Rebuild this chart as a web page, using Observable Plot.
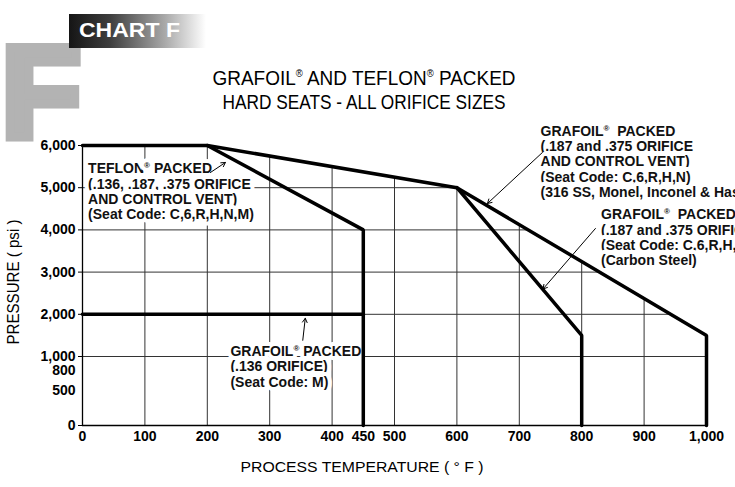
<!DOCTYPE html>
<html><head><meta charset="utf-8">
<script src="https://cdn.jsdelivr.net/npm/d3@7"></script>
<script src="https://cdn.jsdelivr.net/npm/@observablehq/plot@0.6"></script>
<style>
html,body{margin:0;padding:0;background:#fff;}
#wrap{position:relative;width:735px;height:487px;overflow:hidden;font-family:"Liberation Sans",Arial,sans-serif;}
#wrap svg.overlay{position:absolute;left:0;top:0;pointer-events:none;}
#wrap > svg:first-child{position:absolute;left:0;top:0;}
</style></head><body><div id="wrap"></div>
<script>
// ---- data ----
const temperatureTicks = [0,100,200,300,400,450,500,600,700,800,900,1000];
const pressureTicks = [0,500,800,1000,2000,3000,4000,5000,6000];
const pressureTickMarks = [0,1000,2000,3000,4000,5000,6000];
const gridTemps = [100,200,300,400,500,600,700,800,900];
const gridPressures = [1000,2000,3000,4000,5000];

const teflonTemp = [0,200,450,450];
const teflonPressure = [6000,6000,4000,0];
const grafoilAlloyTemp = [200,600,1000,1000];
const grafoilAlloyPressure = [6000,5000,1500,0];
const grafoilCarbonTemp = [600,800,800];
const grafoilCarbonPressure = [5000,1500,0];
const grafoil136Temp = [0,450];
const grafoil136Pressure = [2000,2000];
const envelopeTemp = [0,200,600,1000];
const envelopePressure = [6000,6000,5000,1500];

const noteTexts = [
  "TEFLON® PACKED\n(.136, .187, .375 ORIFICE\nAND CONTROL VENT)\n(Seat Code: C,6,R,H,N,M)",
  "GRAFOIL®  PACKED\n(.187 and .375 ORIFICE\nAND CONTROL VENT)\n(Seat Code: C,6,R,H,N)\n(316 SS, Monel, Inconel & Hastelloy)",
  "GRAFOIL®  PACKED\n(.187 and .375 ORIFICE\n(Seat Code: C,6,R,H,N)\n(Carbon Steel)",
  "GRAFOIL® PACKED\n(.136 ORIFICE)\n(Seat Code: M)"
];
const noteTemps = [9, 734, 831, 237];
const notePressures = [4910, 5621, 3820, 855];

const arrowFromTemp = [205, 737, 822, 353];
const arrowFromPressure = [5360, 5834, 4033, 1384];
const arrowToTemp = [229, 649, 738, 357];
const arrowToPressure = [5597, 4626, 2600, 1905];

// broken pressure axis: 0–1000 psi is drawn taller than each 1000 psi step above
const lowBandStretch = 69 / 42.2;
const pressureAxis = p => p <= 1000 ? p * lowBandStretch : 1000 * lowBandStretch + (p - 1000);

// ---- build ----
const pts = (t, p) => t.map((d, i) => ({t: d, p: p[i]}));
const series = [
  pts(teflonTemp, teflonPressure),
  pts(grafoilAlloyTemp, grafoilAlloyPressure),
  pts(grafoilCarbonTemp, grafoilCarbonPressure),
  pts(grafoil136Temp, grafoil136Pressure)
];
const envelope = pts(envelopeTemp, envelopePressure);
const notes = noteTexts.map((s, i) => ({s, t: noteTemps[i], p: notePressures[i]}));
const arrows = arrowFromTemp.map((d, i) => ({t1: d, p1: arrowFromPressure[i], t2: arrowToTemp[i], p2: arrowToPressure[i]}));
const fmt = d3.format(",");

const plot = Plot.plot({
  width: 735, height: 487,
  marginLeft: 82, marginRight: 29, marginTop: 145, marginBottom: 62,
  style: {fontFamily: "'Liberation Sans', Arial, sans-serif", background: "transparent", overflow: "visible", color: "#000"},
  x: {domain: [0, 1000]},
  y: {transform: pressureAxis, range: [425, 145]},
  marks: [
    Plot.ruleX(gridTemps, {y1: 0, y2: 6000, stroke: "#333", strokeWidth: 1}),
    Plot.ruleY(gridPressures, {x1: 0, x2: 1000, stroke: "#333", strokeWidth: 1}),
    Plot.areaY(envelope, {x: "t", y1: "p", y2: 6000, fill: "white"}),
    Plot.text(notes, {x: "t", y: "p", text: "s", textAnchor: "start", lineAnchor: "middle", lineHeight: 1.09,
      fontSize: 14, fontWeight: "bold", fill: "#111", stroke: "white", strokeWidth: 8, paintOrder: "stroke", strokeLinejoin: "round"}),
    Plot.ruleX([0], {y1: 0, y2: 6000, stroke: "black", strokeWidth: 1.3}),
    Plot.ruleY([0], {x1: 0, x2: 1000, stroke: "black", strokeWidth: 1.3}),
    ...series.map(s => Plot.line(s, {x: "t", y: "p", stroke: "black", strokeWidth: 3.5, strokeLinejoin: "miter"})),
    Plot.arrow(arrows, {x1: "t1", y1: "p1", x2: "t2", y2: "p2", stroke: "black", strokeWidth: 1, headLength: 7}),
    Plot.axisX(temperatureTicks, {tickSize: 0, tickPadding: 6, tickFormat: fmt, fontSize: 14, fontWeight: "bold", label: null}),
    Plot.axisY(pressureTickMarks, {tickSize: 4, tickFormat: () => "", label: null}),
    Plot.axisY(pressureTicks, {tickSize: 0, tickPadding: 7, tickFormat: fmt, fontSize: 14, fontWeight: "bold", label: null})
  ]
});

// superscript registered marks
plot.querySelectorAll("text, tspan").forEach(el => {
  if (el.childNodes.length === 1 && el.firstChild.nodeType === 3 && el.textContent.includes("®")) {
    const parts = el.textContent.split("®");
    el.textContent = parts[0];
    for (let i = 1; i < parts.length; i++) {
      const sup = document.createElementNS("http://www.w3.org/2000/svg", "tspan");
      sup.setAttribute("font-size", "8");
      sup.setAttribute("dy", "-5");
      sup.textContent = "®";
      const rest = document.createElementNS("http://www.w3.org/2000/svg", "tspan");
      rest.setAttribute("dy", "5");
      rest.textContent = parts[i];
      el.appendChild(sup); el.appendChild(rest);
    }
  }
});
plot.querySelectorAll("text").forEach(t => t.style.whiteSpace = "pre");

const wrap = document.getElementById("wrap");
wrap.appendChild(plot);

const overlay = `
<svg class="overlay" width="735" height="487" xmlns="http://www.w3.org/2000/svg" style="font-family:'Liberation Sans',Arial,sans-serif;white-space:pre">
  <defs><linearGradient id="hdr" x1="0" x2="1" y1="0" y2="0">
    <stop offset="0" stop-color="#151515"/><stop offset="0.3" stop-color="#3e3e3e"/>
    <stop offset="0.7" stop-color="#a9a9a9"/><stop offset="1" stop-color="#ffffff"/>
  </linearGradient></defs>
  <text x="1.5" y="137" font-weight="bold" font-size="130" fill="#b3b3b3" stroke="#b3b3b3" stroke-width="9">F</text>
  <rect x="69" y="14" width="137" height="34" fill="url(#hdr)"/>
  <text x="79" y="37" fill="#fff" font-weight="bold" font-size="20" textLength="101" lengthAdjust="spacingAndGlyphs">CHART F</text>
  <text x="364" y="85" text-anchor="middle" font-size="20" textLength="303" lengthAdjust="spacingAndGlyphs">GRAFOIL<tspan font-size="10" dy="-8">®</tspan><tspan dy="8">  AND TEFLON</tspan><tspan font-size="10" dy="-8">®</tspan><tspan dy="8">  PACKED</tspan></text>
  <text x="364" y="109" text-anchor="middle" font-size="20" textLength="283" lengthAdjust="spacingAndGlyphs">HARD SEATS - ALL ORIFICE SIZES</text>
  <text transform="translate(19,282) rotate(-90)" text-anchor="middle" font-size="16" textLength="125" lengthAdjust="spacingAndGlyphs">PRESSURE  ( psi )</text>
  <text x="362" y="472" text-anchor="middle" font-size="15" textLength="243" lengthAdjust="spacingAndGlyphs">PROCESS TEMPERATURE   ( ° F )</text>
</svg>`;
wrap.insertAdjacentHTML("beforeend", overlay);
</script></body></html>
